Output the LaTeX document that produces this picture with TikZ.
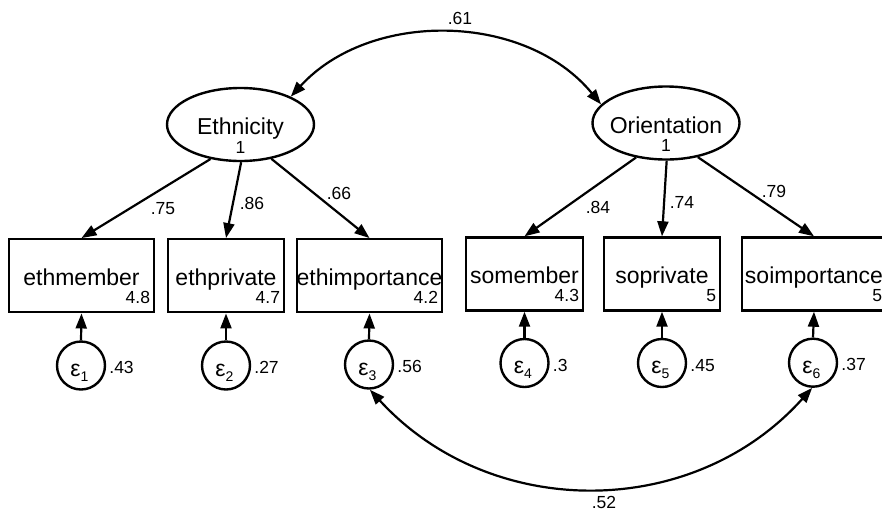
\documentclass[tikz,border=0pt]{standalone}
\usepackage{fontspec}
\setmainfont{Liberation Sans}
\usetikzlibrary{arrows.meta,shapes.geometric}

\tikzset{
  latent/.style={ellipse, draw, line width=2.4pt, minimum width=147pt, minimum height=73pt, inner sep=0pt},
  observed/.style={rectangle, draw, line width=2.4pt, minimum height=73pt, inner sep=0pt},
  errorvar/.style={circle, draw, line width=2.4pt, minimum size=48pt, inner sep=0pt},
  loading/.style={line width=2.2pt, -{Triangle[length=15pt,width=11pt]}},
  covpath/.style={line width=2.2pt, {Triangle[length=15pt,width=11pt]}-{Triangle[length=15pt,width=11pt]}},
  bigtxt/.style={font=\fontsize{23}{25}\selectfont, inner sep=0pt},
  smalltxt/.style={font=\fontsize{17.5}{19}\selectfont, inner sep=0pt},
}

\newcommand{\errlabel}[1]{ε\raisebox{-5pt}{\fontsize{14}{14}\selectfont #1}}

\begin{document}
\begin{tikzpicture}[x=1pt,y=-1pt]
  \useasboundingbox (0,0) rectangle (882,515);
  \clip (0,0) rectangle (882,515);

  % latent factors
  \node[latent] (eth) at (240.5,124.5) {};
  \node[latent] (ori) at (666,123) {};
  \node[bigtxt, anchor=base] (etht) at (240.5,134.3) {Ethnicity};
  \node[smalltxt, anchor=base] (ethv) at (240.5,153.3) {1};
  \node[bigtxt, anchor=base] (orit) at (666,133.3) {Orientation};
  \node[smalltxt, anchor=base] (oriv) at (666,151.7) {1};

  % observed indicators
  \node[observed, minimum width=145pt] (b1) at (81.5,275.75) {};
  \node[observed, minimum width=116pt] (b2) at (226,275.75) {};
  \node[observed, minimum width=145pt] (b3) at (369.5,275.75) {};
  \node[observed, minimum width=117pt] (b4) at (524.5,274) {};
  \node[observed, minimum width=116pt] (b5) at (662,274) {};
  \node[observed, minimum width=144pt] (b6) at (814,274) {};

  \node[bigtxt, anchor=base] (b1t) at (81.5,285) {ethmember};
  \node[bigtxt, anchor=base] (b2t) at (226,285) {ethprivate};
  \node[bigtxt, anchor=base] (b3t) at (369.5,285) {ethimportance};
  \node[bigtxt, anchor=base] (b4t) at (524.5,283.3) {somember};
  \node[bigtxt, anchor=base] (b5t) at (662,283.3) {soprivate};
  \node[bigtxt, anchor=base] (b6t) at (814,283.3) {soimportance};

  \node[smalltxt, anchor=base east] (b1m) at ([xshift=-5pt]b1.east |- 0,303.3) {4.8};
  \node[smalltxt, anchor=base east] (b2m) at ([xshift=-5pt]b2.east |- 0,303.3) {4.7};
  \node[smalltxt, anchor=base east] (b3m) at ([xshift=-5pt]b3.east |- 0,303.3) {4.2};
  \node[smalltxt, anchor=base east] (b4m) at ([xshift=-5pt]b4.east |- 0,301.7) {4.3};
  \node[smalltxt, anchor=base east] (b5m) at ([xshift=-5pt]b5.east |- 0,301.7) {5};
  \node[smalltxt, anchor=base east] (b6m) at ([xshift=-5pt]b6.east |- 0,301.7) {5};

  % error terms
  \node[errorvar] (e1) at (81,365.5) {};
  \node[errorvar] (e2) at (226,365.5) {};
  \node[errorvar] (e3) at (369,364.5) {};
  \node[errorvar] (e4) at (524.5,363) {};
  \node[errorvar] (e5) at (662,363) {};
  \node[errorvar] (e6) at (813,362.7) {};

  \node[bigtxt, anchor=base] (e1t) at (79.5,376) {\errlabel{1}};
  \node[bigtxt, anchor=base] (e2t) at (224.5,376) {\errlabel{2}};
  \node[bigtxt, anchor=base] (e3t) at (367.5,375) {\errlabel{3}};
  \node[bigtxt, anchor=base] (e4t) at (523,373.5) {\errlabel{4}};
  \node[bigtxt, anchor=base] (e5t) at (660.5,373.5) {\errlabel{5}};
  \node[bigtxt, anchor=base] (e6t) at (811.5,373.2) {\errlabel{6}};

  \node[smalltxt, anchor=base west] (e1v) at ([xshift=3pt]e1.east |- 0,373.5) {.43};
  \node[smalltxt, anchor=base west] (e2v) at ([xshift=3pt]e2.east |- 0,373.5) {.27};
  \node[smalltxt, anchor=base west] (e3v) at ([xshift=3pt]e3.east |- 0,372.5) {.56};
  \node[smalltxt, anchor=base west] (e4v) at ([xshift=3pt]e4.east |- 0,371.2) {.3};
  \node[smalltxt, anchor=base west] (e5v) at ([xshift=3pt]e5.east |- 0,371.2) {.45};
  \node[smalltxt, anchor=base west] (e6v) at ([xshift=3pt]e6.east |- 0,370.7) {.37};

  % factor loadings
  \draw[loading] (eth.-131.5) -- (b1.north);
  \draw[loading] (eth.-89) -- (b2.north);
  \draw[loading] (eth.-48.3) -- (b3.north);
  \draw[loading] (ori.-131.5) -- (b4.north);
  \draw[loading] (ori.-89) -- (b5.north);
  \draw[loading] (ori.-47.6) -- (b6.north);

  \node[smalltxt] (l1) at (163,209) {.75};
  \node[smalltxt] (l2) at (252,203) {.86};
  \node[smalltxt] (l3) at (339,193) {.66};
  \node[smalltxt] (l4) at (598,207) {.84};
  \node[smalltxt] (l5) at (682,202) {.74};
  \node[smalltxt] (l6) at (774,191) {.79};

  % residual paths
  \draw[loading] (e1.north) -- (b1.south);
  \draw[loading] (e2.north) -- (b2.south);
  \draw[loading] (e3.north) -- (b3.south);
  \draw[loading] (e4.north) -- (b4.south);
  \draw[loading] (e5.north) -- (b5.south);
  \draw[loading] (e6.north) -- (b6.south);

  % covariances
  \draw[covpath] (eth.29) .. controls (370,10) and (525,12) .. (ori.164);
  \node[smalltxt] (c1) at (460,18) {.61};
  \draw[covpath] (e3.-88) .. controls (490,521) and (693,521) .. (e6.-92);
  \node[smalltxt] (c2) at (604,502) {.52};
\end{tikzpicture}
\end{document}
